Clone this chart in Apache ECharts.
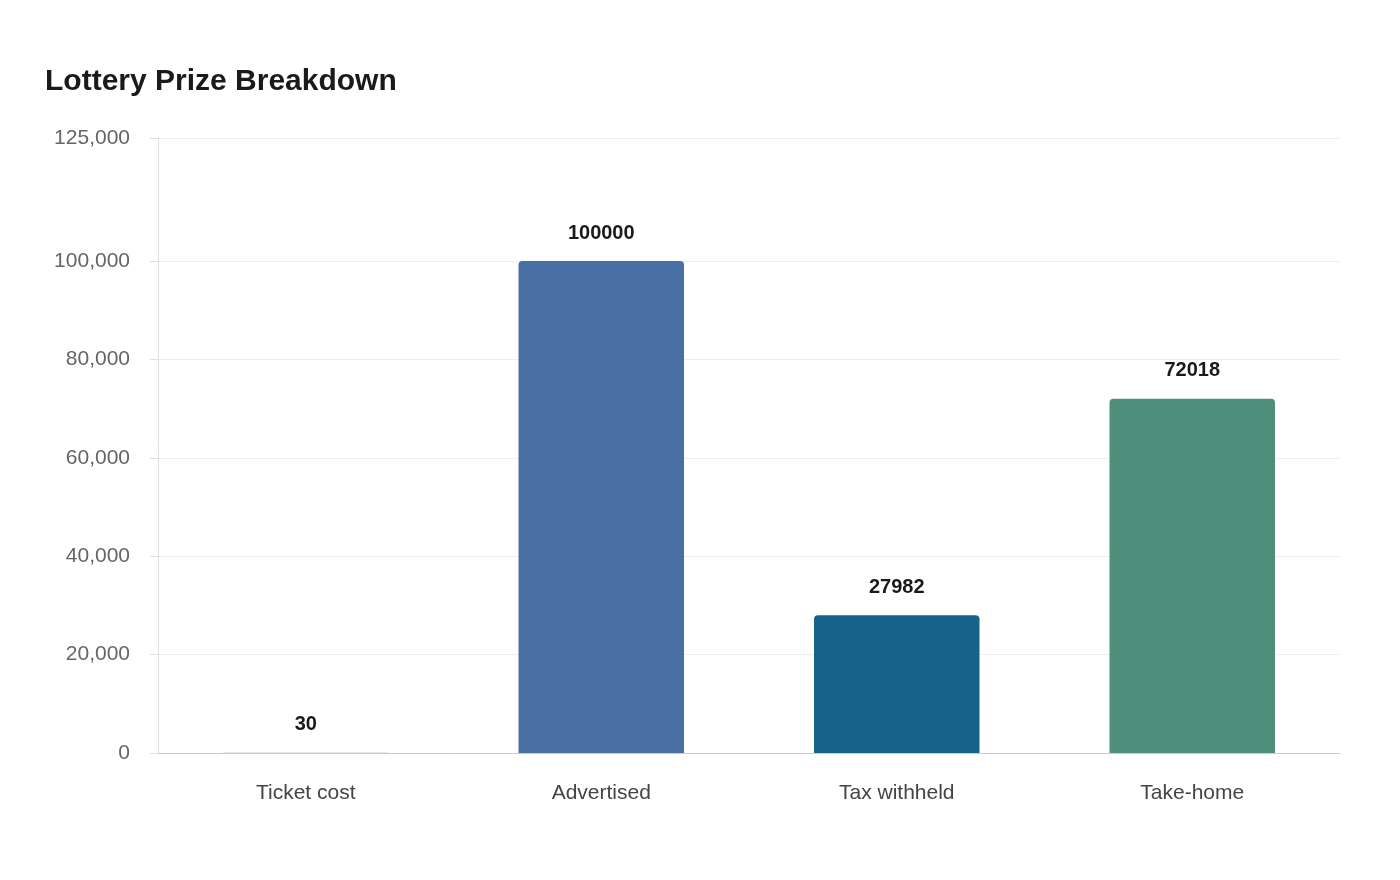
<!DOCTYPE html>
<html><head><meta charset="utf-8">
<script src="https://cdn.jsdelivr.net/npm/echarts@6/dist/echarts.min.js"></script>
<style>html,body{margin:0;padding:0;background:#fff}#c{width:1400px;height:880px}</style>
</head><body><div id="c"></div>
<script>
const categories = ["Ticket cost","Advertised","Tax withheld","Take-home"];
const values = [30,100000,27982,72018];
const colors = ["#9a9a9a","#4a6fa5","#17628a","#4e8f7b"];
const yTicks = [0,20000,40000,60000,80000,100000,125000];
const chart = echarts.init(document.getElementById('c'));
chart.setOption({
  animation:false,
  title:{text:"Lottery Prize Breakdown",left:40,top:62,textStyle:{fontFamily:"Liberation Sans, Arial",fontSize:30,fontWeight:"bold",color:"#1a1a1a"}},
  grid:{left:158,right:60,top:138,bottom:127},
  xAxis:{type:"category",data:categories,axisTick:{show:false},
    axisLine:{lineStyle:{color:"#cccccc"}},
    axisLabel:{fontFamily:"Liberation Sans, Arial",fontSize:21,color:"#444",margin:30}},
  yAxis:{type:"value",min:0,max:125000,
    axisLine:{show:true,lineStyle:{color:"#e0e0e0"}},
    axisTick:{show:true,customValues:yTicks,length:8,lineStyle:{color:"#e0e0e0"}},
    splitLine:{lineStyle:{color:"#eeeeee"}},
    axisLabel:{customValues:yTicks,fontFamily:"Liberation Sans, Arial",fontSize:21,color:"#666",margin:28,
      formatter:v=>v.toLocaleString('en-US')}},
  series:[{type:"bar",barWidth:"56%",
    data:values.map((v,i)=>({value:v,itemStyle:{color:colors[i],borderRadius:[4,4,0,0]}})),
    label:{show:true,position:"top",distance:18,fontFamily:"Liberation Sans, Arial",fontSize:20,fontWeight:"bold",color:"#1a1a1a"}}]
});
</script></body></html>
